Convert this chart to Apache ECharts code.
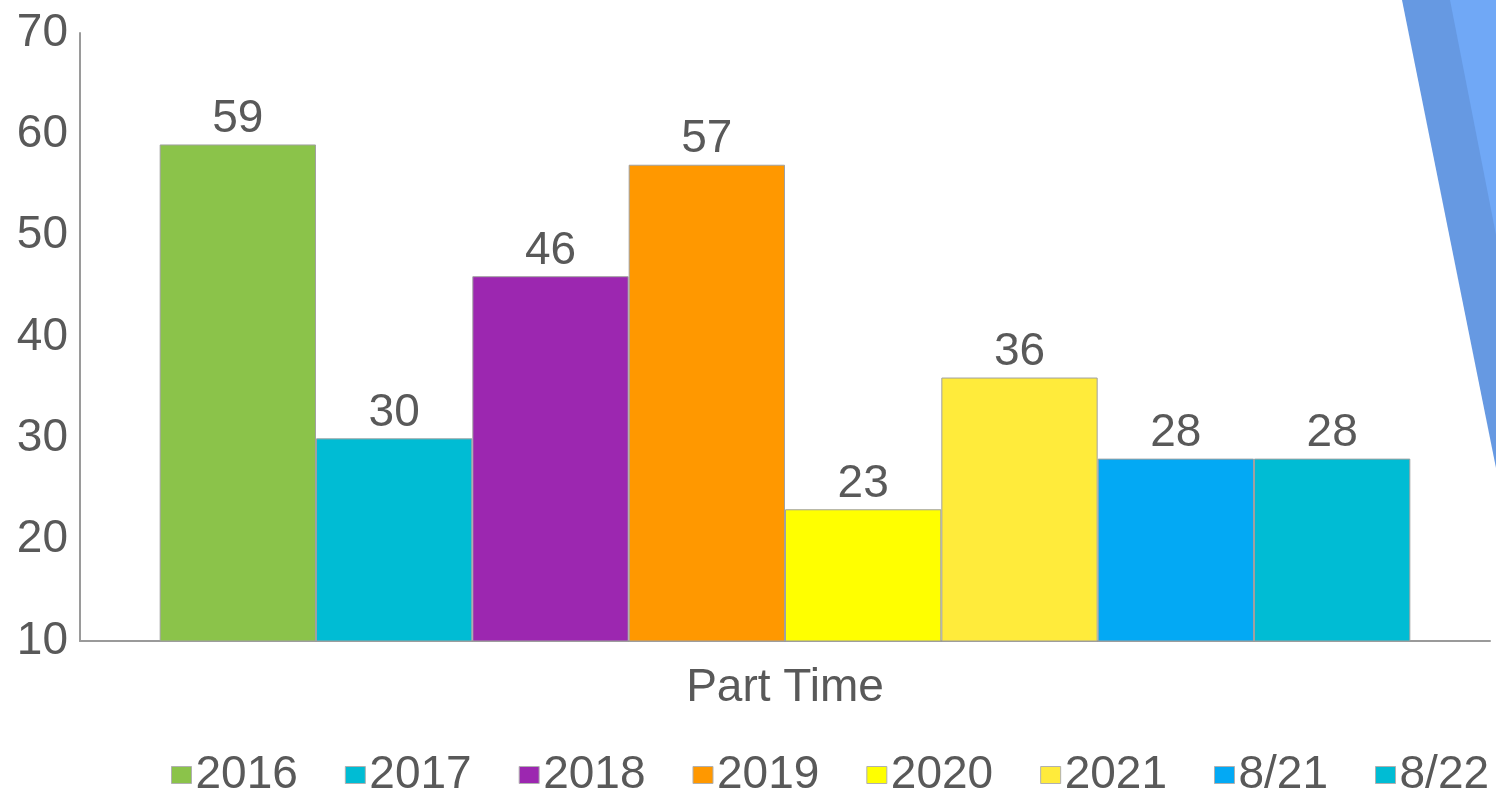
<!DOCTYPE html>
<html>
<head>
<meta charset="utf-8">
<script src="https://cdn.jsdelivr.net/npm/echarts@6/dist/echarts.min.js"></script>
<style>
html,body{margin:0;padding:0;background:#fff;}
#c{width:1496px;height:795px;}
</style>
</head>
<body>
<div id="c"></div>
<script>
const categories = ['Part Time'];
const seriesNames = ['2016', '2017', '2018', '2019', '2020', '2021', '8/21', '8/22'];
const seriesValues = [59, 30, 46, 57, 23, 36, 28, 28];
const seriesColors = ['#8BC34A', '#00BCD4', '#9C27B0', '#FF9800', '#FFFF00', '#FFEB3B', '#03A9F4', '#00BCD4'];
const yTicks = { min: 10, max: 70, interval: 10 };

const FONT = '"Liberation Sans", Arial, sans-serif';
const TXT = '#595959';

const chart = echarts.init(document.getElementById('c'));
chart.setOption({
  animation: false,
  backgroundColor: '#fff',
  graphic: [
    { type: 'polygon', z: -1, shape: { points: [[1402, 0], [1496, 0], [1496, 468]] }, style: { fill: '#6699E2' } },
    { type: 'polygon', z: -1, shape: { points: [[1450, 0], [1496, 0], [1496, 235]] }, style: { fill: '#70A8F6' } }
  ],
  grid: { left: 80, right: 6, top: 33, bottom: 154, containLabel: false },
  legend: {
    data: seriesNames,
    left: 171,
    right: 0,
    top: 752,
    padding: 0,
    icon: 'rect',
    itemWidth: 20,
    itemHeight: 17,
    itemGap: 47,
    itemStyle: { borderColor: '#b0b0b0', borderWidth: 1 },
    textStyle: { fontFamily: FONT, fontSize: 46, color: TXT, padding: [0, 0, 0, -1] }
  },
  xAxis: {
    type: 'category',
    data: categories,
    axisLine: { lineStyle: { color: '#9a9a9a', width: 2 } },
    axisTick: { show: false },
    axisLabel: { fontFamily: FONT, fontSize: 46, color: TXT, margin: 24 }
  },
  yAxis: {
    type: 'value',
    min: yTicks.min,
    max: yTicks.max,
    interval: yTicks.interval,
    splitLine: { show: false },
    axisLine: { show: true, lineStyle: { color: '#9a9a9a', width: 2 } },
    axisTick: { show: false },
    axisLabel: { fontFamily: FONT, fontSize: 46, color: TXT, margin: 12 }
  },
  series: seriesNames.map((name, i) => ({
    name: name,
    type: 'bar',
    data: [seriesValues[i]],
    barGap: '0%',
    barCategoryGap: '11.3%',
    itemStyle: { color: seriesColors[i], borderColor: '#a0a0a0', borderWidth: 1 },
    label: { show: true, position: 'top', distance: 2, fontFamily: FONT, fontSize: 46, color: TXT }
  }))
});
</script>
</body>
</html>
